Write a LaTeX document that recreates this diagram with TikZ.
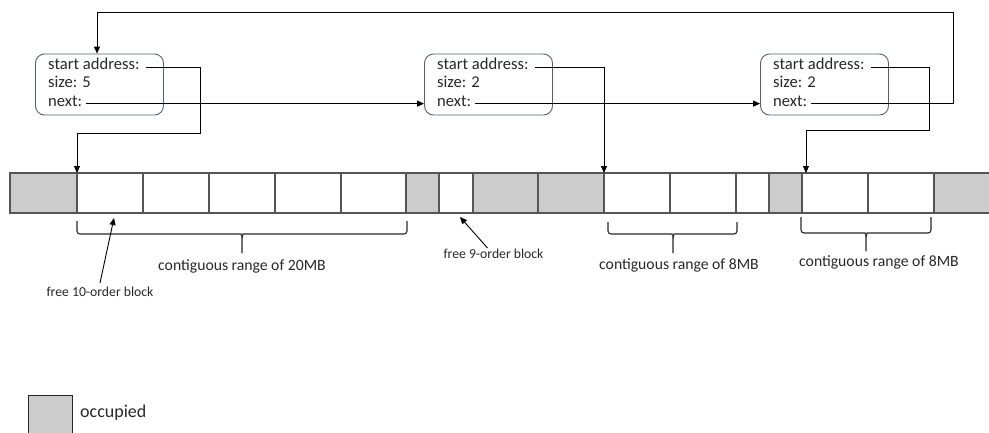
\documentclass[tikz,border=0pt]{standalone}
\usepackage{fontspec}
\setmainfont{Carlito}
\usetikzlibrary{arrows.meta,calc}
\definecolor{occ}{RGB}{204,204,204}
\definecolor{cellline}{RGB}{85,85,85}
\definecolor{boxline}{RGB}{84,98,112}
\definecolor{ink}{RGB}{40,40,40}

% square brace under a range: ends x1,x2; top of ticks, horizontal level, tip, centre
\newcommand\rangebrace[6]{%
  \draw[brace] (#1,#3) |- ({#6-4},#4) to[out=0,in=90] (#6,{#4+4}) -- (#6,#5);
  \draw[brace] (#2,#3) |- ({#6+4},#4) to[out=180,in=90] (#6,{#4+4});
}

\begin{document}
\begin{tikzpicture}[x=1pt,y=-1pt,
  every node/.style={text=ink},
  cell/.style={draw=cellline,line width=1.1pt,minimum height=40pt,inner sep=0,outer sep=0,anchor=north west},
  rec/.style={draw=boxline,line width=0.9pt,rounded corners=9pt,minimum width=128pt,minimum height=61pt,inner sep=0},
  field/.style={anchor=base west,inner sep=0,font=\fontsize{16.6}{18}\selectfont},
  link/.style={draw=black,line width=0.9pt},
  arr/.style={link,-{Triangle[length=7pt,width=6pt]}},
  brace/.style={draw=ink,line width=1.1pt,rounded corners=3pt},
  rangelbl/.style={font=\fontsize{15.7}{18}\selectfont,inner sep=0},
  blocklbl/.style={font=\fontsize{13.7}{16}\selectfont,inner sep=0},
]
\useasboundingbox (0,0) rectangle (989,432);

% memory strip
\foreach \i/\a/\b/\f in {1/10/77/occ, 2/77/143/white, 3/143/209/white, 4/209/275/white,
    5/275/341/white, 6/341/406/white, 7/406/439/occ, 8/439/473/white, 9/473/538/occ,
    10/538/604/occ, 11/604/670/white, 12/670/736/white, 13/736/769/white, 14/769/802/occ,
    15/802/868/white, 16/868/934/white, 17/934/992/occ}{
  \pgfmathsetmacro\w{\b-\a}
  \node[cell,fill=\f,minimum width=\w pt] (c\i) at (\a,173) {};
}

% free-list records
\node[rec] (b1) at (99.5,84.5) {};
\node[rec] (b2) at (488.5,84.5) {};
\node[rec] (b3) at (824.5,84.5) {};

\node[field] (b1sa) at (48,69.5) {start address:};
\node[field] (b1sz) at (48,87.8) {size: 5};
\node[field] (b1nx) at (48,106) {next:};
\node[field] (b2sa) at (437,69.5) {start address:};
\node[field] (b2sz) at (437,87.8) {size: 2};
\node[field] (b2nx) at (437,106) {next:};
\node[field] (b3sa) at (773,69.5) {start address:};
\node[field] (b3sz) at (773,87.8) {size: 2};
\node[field] (b3nx) at (773,106) {next:};

% pointers
\coordinate (k1) at (200,133);
\coordinate (k3) at (929,130);
\coordinate (k4) at (953,12);
\draw[arr] ([xshift=6pt]b1sa.mid east) -| (k1) -| (c2.north west);
\draw[arr] ([xshift=4pt]b1nx.mid east) -- (b1nx.mid east -| b2.west);
\draw[arr] ([xshift=6pt]b2sa.mid east) -| (c11.north west);
\draw[arr] ([xshift=4pt]b2nx.mid east) -- (b2nx.mid east -| b3.west);
\draw[arr] ([xshift=6pt]b3sa.mid east) -| (k3) -| ([xshift=4pt]c15.north west);
\draw[arr] ([xshift=4pt]b3nx.mid east) -| (k4) -| ([xshift=-2.5pt]b1.north);

% ranges
\rangebrace{77}{407}{221}{234}{253}{242}
\rangebrace{608}{737}{222}{234}{253}{673}
\rangebrace{801}{931}{217}{233}{251}{866}
\node[rangelbl] (r1) at (242,266) {contiguous range of 20MB};
\node[rangelbl] (r2) at (679,265) {contiguous range of 8MB};
\node[rangelbl] (r3) at (879,262) {contiguous range of 8MB};

% block annotations
\node[blocklbl] (f10) at (100,292) {free 10-order block};
\node[blocklbl] (f9) at (493.5,254) {free 9-order block};
\coordinate (t10) at (114,218);
\coordinate (t9) at (460,217);
\draw[arr] ([yshift=4pt]f10.north) -- (t10);
\draw[arr] ([xshift=-6pt,yshift=1pt]f9.north) -- (t9);

% legend
\node[draw=black!85,fill=occ,line width=1pt,minimum width=44pt,minimum height=42pt,
      inner sep=0,anchor=north west] (lg) at (28,395) {};
\node[font=\fontsize{18}{20}\selectfont,anchor=west,inner sep=0] (lgt) at (80,413) {occupied};
\end{tikzpicture}
\end{document}
